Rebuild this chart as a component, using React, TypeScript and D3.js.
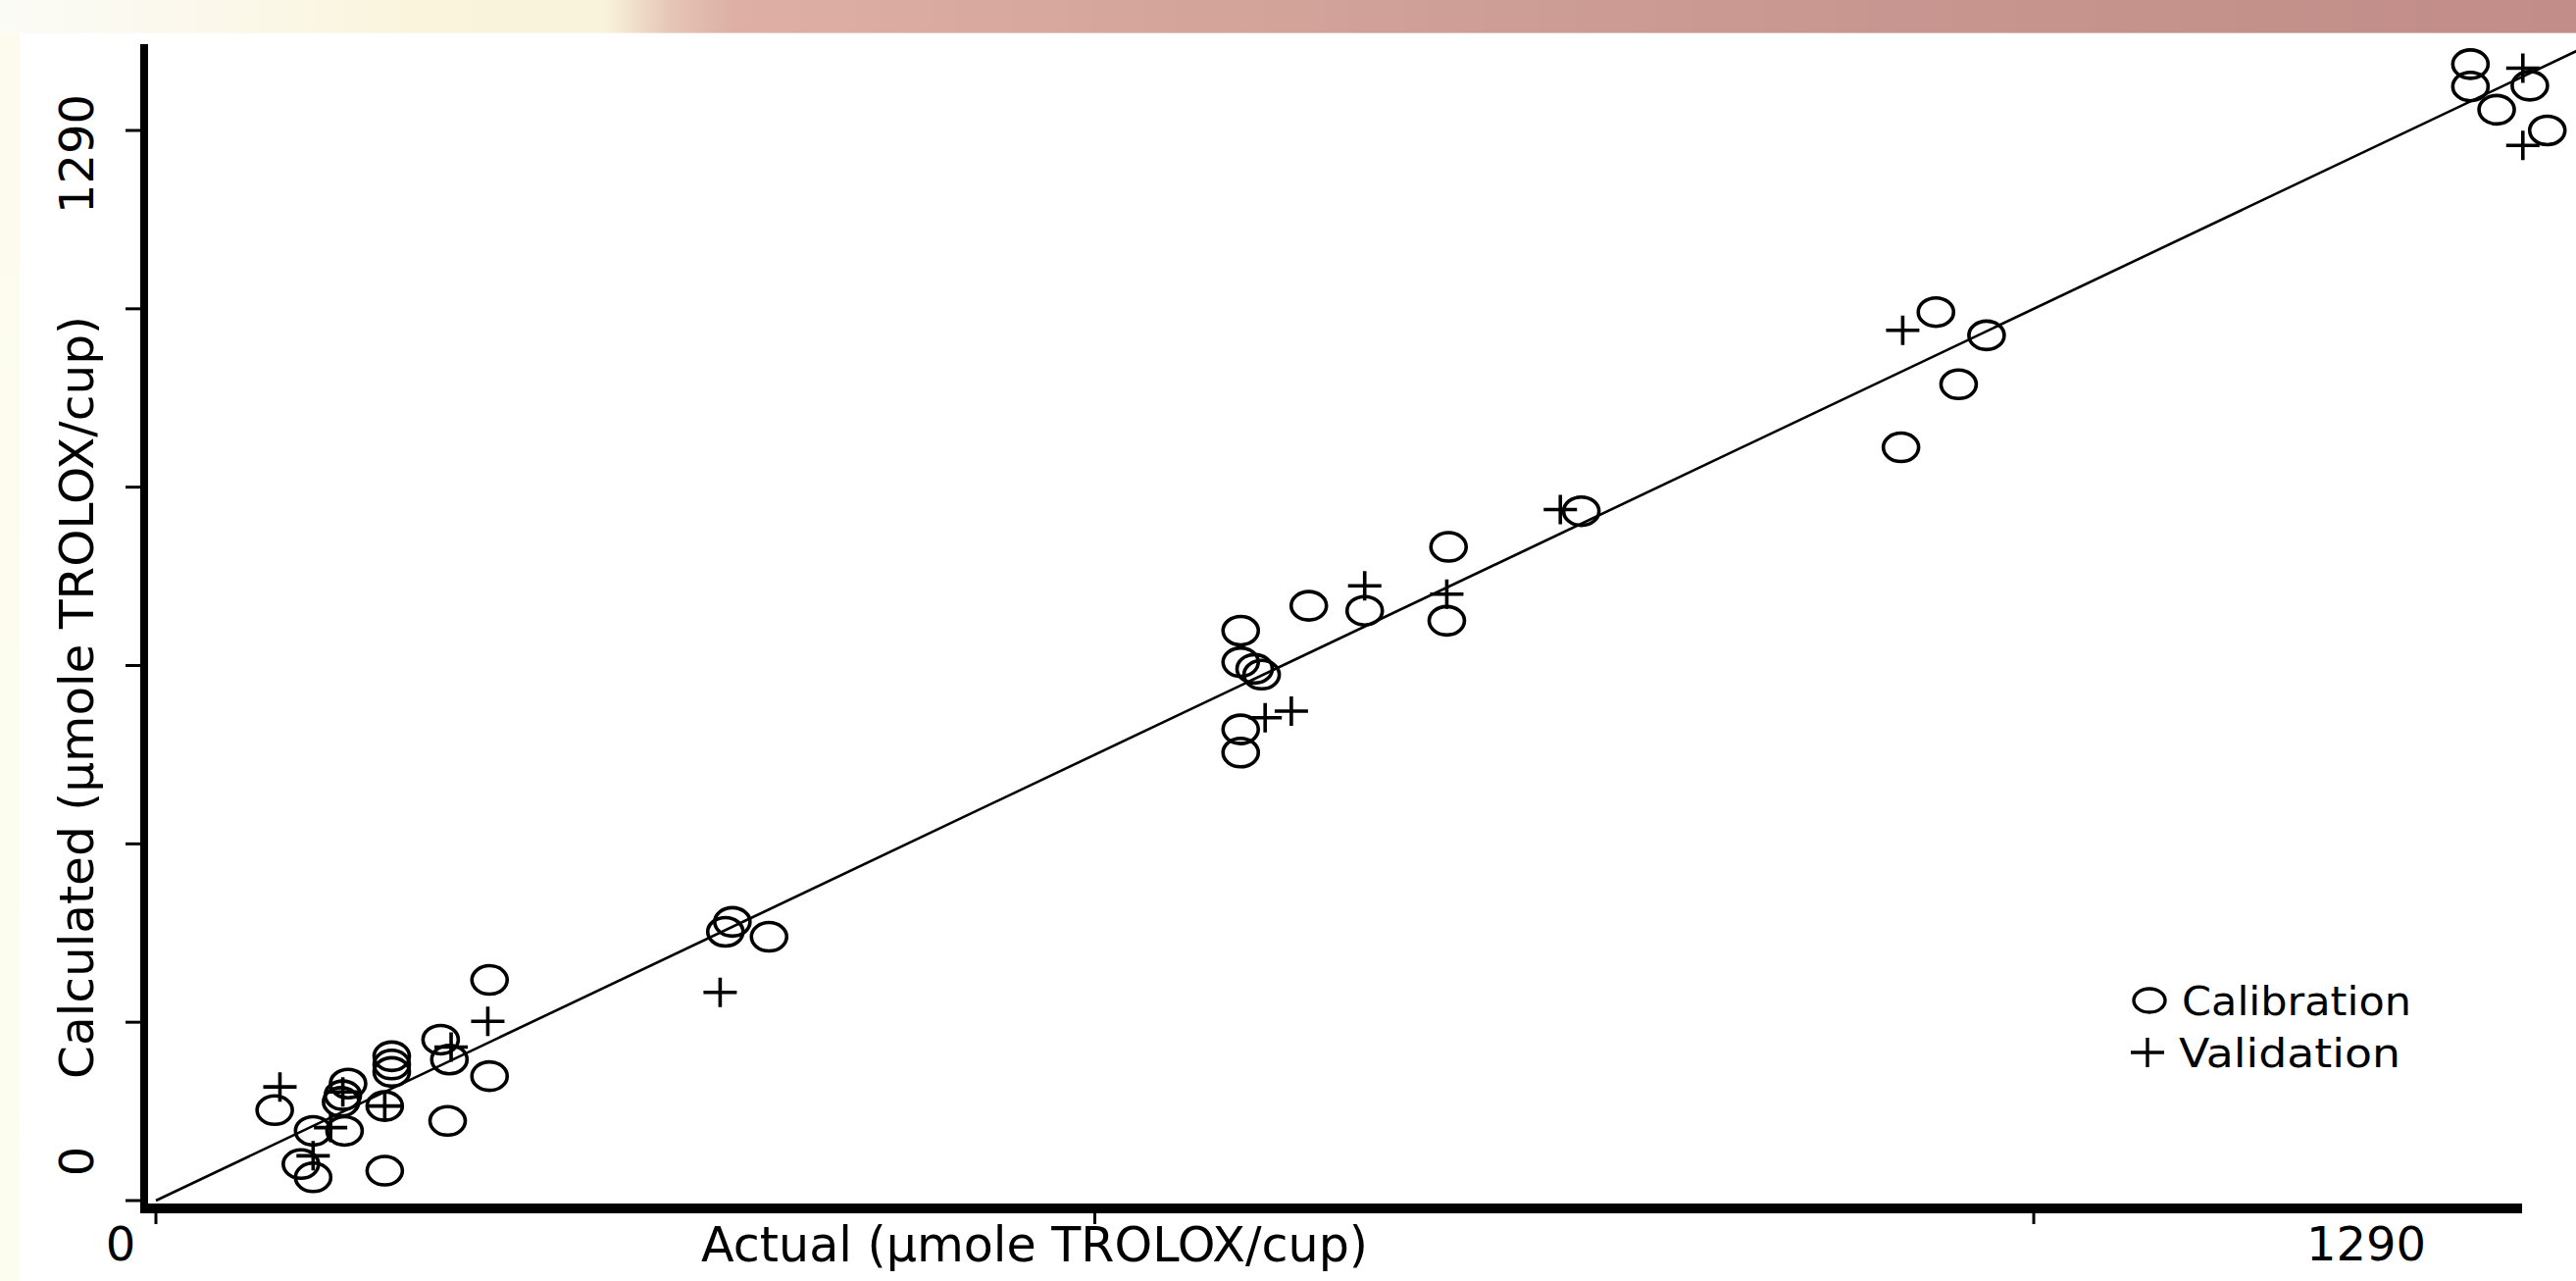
import React from "react";
import * as d3 from "d3";

// ---- data ----
const calibrationActual = [
  1325, 1325, 1340, 1359, 1369,
  1019, 1048, 1032, 999, 816, 740,
  621, 621, 629, 633, 621, 621, 660, 692, 739,
  330, 326, 351,
  191, 163, 168, 191, 167, 135, 135, 135, 131, 131, 110, 107, 106, 108, 90, 68, 83, 90,
];
const calibrationCalculated = [
  1370, 1343, 1315, 1344, 1290,
  1071, 1043, 984, 908, 831, 788,
  687, 649, 641, 634, 568, 540, 717, 711, 699,
  336, 324, 318,
  266, 194, 170, 150, 96, 174, 164, 155, 114, 36, 141, 127, 119, 84, 84, 109, 44, 28,
];
const validationActual = [1355, 1355, 1000, 804, 692, 739, 635, 650, 323, 190, 169, 131, 100, 107, 71, 90];
const validationCalculated = [1365, 1272, 1049, 833, 741, 731, 582, 590, 251, 216, 185, 114, 88, 131, 137, 54];

const fitLineX = [0, 1400];
const fitLineY = [0, 1400];

const yTicks = [0, 215, 430, 645, 860, 1075, 1290];
const xTicks = [0, 537.5, 1075];
const yTickLabels = ["0", "1290"];
const xTickLabels = ["0", "1290"];
const xTitle = "Actual (\u00b5mole TROLOX/cup)";
const yTitle = "Calculated (\u00b5mole TROLOX/cup)";
const legendLabels = ["Calibration", "Validation"];

export default function App() {
  const W = 2627;
  const H = 1306;
  const x = d3.scaleLinear().domain([0, 1290]).range([159, 2457]);
  const y = d3.scaleLinear().domain([0, 1290]).range([1224, 133]);

  const axisX = 147; // y-axis line centre
  const axisY = 1232; // x-axis line centre

  const lineGen = d3
    .line<number>()
    .x((d) => x(d))
    .y((_, i) => y(fitLineY[i]));

  const font = "'DejaVu Sans', Verdana, sans-serif";
  const plus = (cx: number, cy: number) =>
    `M${cx - 17},${cy}H${cx + 17}M${cx},${cy - 15}V${cy + 15}`;

  return (
    <svg
      width={W}
      height={H}
      style={{ position: "absolute", left: 0, top: 0, display: "block" }}
      xmlns="http://www.w3.org/2000/svg"
    >
      <defs>
        <linearGradient id="banner" x1="0" x2="1" y1="0" y2="0">
          <stop offset="0" stopColor="#fbfbf6" />
          <stop offset="0.09" stopColor="#fbf8ea" />
          <stop offset="0.16" stopColor="#faf4dc" />
          <stop offset="0.235" stopColor="#f9f3dc" />
          <stop offset="0.26" stopColor="#e6c6b6" />
          <stop offset="0.285" stopColor="#ddafa5" />
          <stop offset="0.45" stopColor="#d4a69b" />
          <stop offset="0.65" stopColor="#ca9a93" />
          <stop offset="0.85" stopColor="#c5918b" />
          <stop offset="1" stopColor="#c28d88" />
        </linearGradient>
        <linearGradient id="strip" x1="0" x2="0" y1="0" y2="1">
          <stop offset="0" stopColor="#fcfbee" />
          <stop offset="1" stopColor="#fdfdef" />
        </linearGradient>
      </defs>
      <rect x={0} y={0} width={W} height={H} fill="#ffffff" />
      <rect x={0} y={0} width={W} height={34} fill="url(#banner)" />
      <rect x={0} y={33} width={W} height={2} fill="#ffffff" opacity={0.35} />
      <rect x={0} y={34} width={20} height={H - 34} fill="url(#strip)" />

      {/* fit line */}
      <path d={lineGen(fitLineX) || ""} fill="none" stroke="#000" strokeWidth={2.6} />

      {/* calibration markers */}
      {calibrationActual.map((a, i) => (
        <ellipse
          key={"c" + i}
          cx={x(a)}
          cy={y(calibrationCalculated[i])}
          rx={18}
          ry={14.5}
          fill="none"
          stroke="#000"
          strokeWidth={3.6}
        />
      ))}
      {/* validation markers */}
      {validationActual.map((a, i) => (
        <path
          key={"v" + i}
          d={plus(x(a), y(validationCalculated[i]))}
          fill="none"
          stroke="#000"
          strokeWidth={3.6}
        />
      ))}

      {/* axes */}
      <rect x={axisX - 4} y={45} width={8} height={axisY + 5 - 45} fill="#000" />
      <rect x={axisX - 4} y={axisY - 5} width={2572 - (axisX - 4)} height={10} fill="#000" />
      {yTicks.map((t) => (
        <line key={"yt" + t} x1={128} x2={axisX} y1={y(t)} y2={y(t)} stroke="#000" strokeWidth={3} />
      ))}
      {xTicks.map((t) => (
        <line key={"xt" + t} x1={x(t)} x2={x(t)} y1={axisY} y2={axisY + 16} stroke="#000" strokeWidth={3} />
      ))}

      {/* tick labels */}
      <text
        transform={`translate(95,${y(0) - 40}) rotate(-90)`}
        textAnchor="middle"
        fontFamily={font}
        fontSize={48}
        fill="#000"
      >
        {yTickLabels[0]}
      </text>
      <text
        transform={`translate(95,${y(1290) + 24}) rotate(-90)`}
        textAnchor="middle"
        fontFamily={font}
        fontSize={48}
        fill="#000"
      >
        {yTickLabels[1]}
      </text>
      <text x={x(0) - 36} y={1285} textAnchor="middle" fontFamily={font} fontSize={48} fill="#000">
        {xTickLabels[0]}
      </text>
      <text x={x(1290) - 44} y={1285} textAnchor="middle" fontFamily={font} fontSize={48} fill="#000">
        {xTickLabels[1]}
      </text>

      {/* axis titles */}
      <text
        x={1055}
        y={1286}
        textAnchor="middle"
        fontFamily={font}
        fontSize={49}
        textLength={680}
        lengthAdjust="spacingAndGlyphs"
        fill="#000"
      >
        {xTitle}
      </text>
      <text
        transform={`translate(95,711) rotate(-90)`}
        textAnchor="middle"
        fontFamily={font}
        fontSize={48}
        textLength={778}
        lengthAdjust="spacingAndGlyphs"
        fill="#000"
      >
        {yTitle}
      </text>

      {/* legend */}
      <ellipse cx={2192} cy={1020} rx={16} ry={12} fill="none" stroke="#000" strokeWidth={3.4} />
      <path d={plus(2190, 1073)} fill="none" stroke="#000" strokeWidth={3.4} />
      <text
        x={2225}
        y={1035}
        fontFamily={font}
        fontSize={40}
        textLength={234}
        lengthAdjust="spacingAndGlyphs"
        fill="#000"
      >
        {legendLabels[0]}
      </text>
      <text
        x={2222}
        y={1088}
        fontFamily={font}
        fontSize={40}
        textLength={226}
        lengthAdjust="spacingAndGlyphs"
        fill="#000"
      >
        {legendLabels[1]}
      </text>
    </svg>
  );
}
